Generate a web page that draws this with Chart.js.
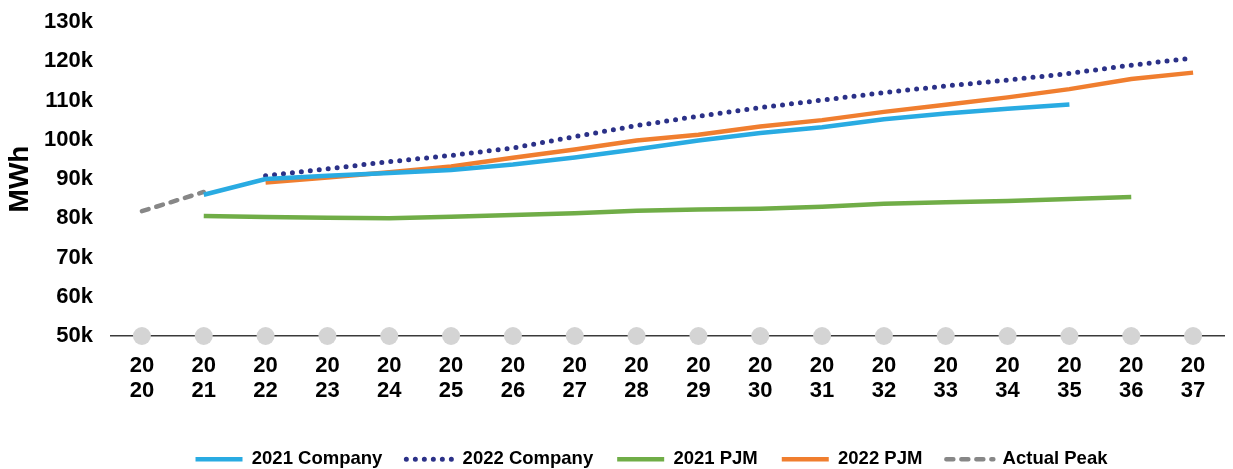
<!DOCTYPE html>
<html>
<head>
<meta charset="utf-8">
<title>Peak load forecast</title>
<script src="https://cdn.jsdelivr.net/npm/chart.js@4.4.0/dist/chart.umd.min.js"></script>
<style>
  html, body { margin: 0; padding: 0; background: #fff; }
  #wrap { width: 1233px; height: 469px; }
</style>
</head>
<body>
<div id="wrap"><canvas id="peakChart" width="1233" height="469"></canvas></div>
<script>
// years on the x axis
const years = ['2020', '2021', '2022', '2023', '2024', '2025', '2026', '2027', '2028',
  '2029', '2030', '2031', '2032', '2033', '2034', '2035', '2036', '2037'];

// forecasts, MWh (null = no value for that year)
const company2021 = [null, 86000, 90000, 90800, 91500, 92300, 93700, 95500, 97600,
  99800, 101700, 103200, 105200, 106700, 107900, 109000, null, null];
const company2022 = [null, null, 90800, 92600, 94400, 96000, 97900, 100800, 103600,
  106000, 108200, 110100, 112000, 113700, 115200, 116900, 119000, 120800];
const pjm2021 = [null, 80600, 80300, 80100, 80000, 80400, 80800, 81300, 81900,
  82200, 82400, 82900, 83700, 84100, 84400, 84900, 85400, null];
const pjm2022 = [null, null, 89100, 90400, 91700, 93200, 95400, 97500, 99800,
  101300, 103400, 105000, 107100, 108900, 110800, 112900, 115500, 117100];
const actualPeak = [81800, 86700, null, null, null, null, null, null, null,
  null, null, null, null, null, null, null, null, null];

// grey year markers sitting on the x axis
const axisMarks = years.map(() => 50000);

// y axis range / ticks
const yMin = 50000;
const yMax = 130000;
const yStep = 10000;

const FONT = 'Liberation Sans, Arial, sans-serif';

// push the legend a bit to the right, under the plot
const legendShift = {
  id: 'legendShift',
  afterLayout(chart) {
    const lg = chart.legend;
    lg.left += 36;
    lg.right += 36;
  }
};

function lineSet(label, data, color, extra) {
  return Object.assign({
    label: label,
    data: data,
    borderColor: color,
    backgroundColor: color,
    borderWidth: 4.5,
    pointRadius: 0,
    pointHoverRadius: 0,
    pointStyle: 'line',
    tension: 0,
    fill: false,
    spanGaps: false
  }, extra || {});
}

// legend samples: copy the line style (dash, cap, width) from each dataset
function legendLabels(chart) {
  const items = Chart.defaults.plugins.legend.labels.generateLabels(chart);
  items.forEach((it) => {
    const ds = chart.data.datasets[it.datasetIndex];
    it.pointStyle = 'line';
    it.strokeStyle = ds.borderColor;
    it.lineWidth = ds.borderWidth;
    it.lineDash = ds.borderDash || [];
    it.lineCap = ds.borderCapStyle || 'butt';
  });
  return items;
}

const ctx = document.getElementById('peakChart').getContext('2d');

new Chart(ctx, {
  type: 'line',
  data: {
    labels: years.map((y) => [y.slice(0, 2), y.slice(2)]),
    datasets: [
      lineSet('2021 Company', company2021, '#29abe2'),
      lineSet('2022 Company', company2022, '#2b3188', {
        borderWidth: 5,
        borderDash: [0, 9],
        borderCapStyle: 'round'
      }),
      lineSet('2021 PJM', pjm2021, '#70ad47'),
      lineSet('2022 PJM', pjm2022, '#f07e2f'),
      lineSet('Actual Peak', actualPeak, '#878787', {
        borderWidth: 4.5,
        borderDash: [7, 8],
        borderCapStyle: 'round'
      }),
      {
        label: '',
        data: axisMarks,
        showLine: false,
        pointRadius: 9,
        pointHoverRadius: 9,
        pointBackgroundColor: '#d4d4d4',
        pointBorderWidth: 0,
        clip: false
      }
    ]
  },
  options: {
    responsive: false,
    animation: false,
    events: [],
    layout: { padding: { top: 3, right: 2, left: 0, bottom: 0 } },
    plugins: {
      tooltip: { enabled: false },
      legend: {
        position: 'bottom',
        maxHeight: 43,
        labels: {
          filter: (item) => item.text !== '',
          generateLabels: legendLabels,
          usePointStyle: true,
          pointStyleWidth: 47,
          boxWidth: 47,
          boxHeight: 18,
          padding: 24,
          color: '#000',
          font: { family: FONT, size: 18.5, weight: 'bold' }
        }
      }
    },
    scales: {
      x: {
        offset: true,
        grid: { display: false, drawTicks: false },
        border: { display: true, color: '#3a3a3a', width: 1.5 },
        ticks: {
          color: '#000',
          padding: 17,
          maxRotation: 0,
          autoSkip: false,
          font: { family: FONT, size: 22, weight: 'bold', lineHeight: 1.15 }
        },
        afterFit: (scale) => { scale.height = 90; }
      },
      y: {
        min: yMin,
        max: yMax,
        grid: { display: false, drawTicks: false },
        border: { display: false },
        ticks: {
          stepSize: yStep,
          color: '#000',
          padding: 18,
          font: { family: FONT, size: 22, weight: 'bold' },
          callback: (v) => (v / 1000) + 'k'
        },
        title: {
          display: true,
          text: 'MWh',
          color: '#000',
          padding: { top: 6, bottom: 0 },
          font: { family: FONT, size: 28, weight: 'bold', lineHeight: 1 }
        },
        afterFit: (scale) => {
          scale.width = 111;
          // tick padding would otherwise also be added above the top label
          scale.paddingTop = 22;
        }
      }
    }
  },
  plugins: [legendShift]
});
</script>
</body>
</html>
